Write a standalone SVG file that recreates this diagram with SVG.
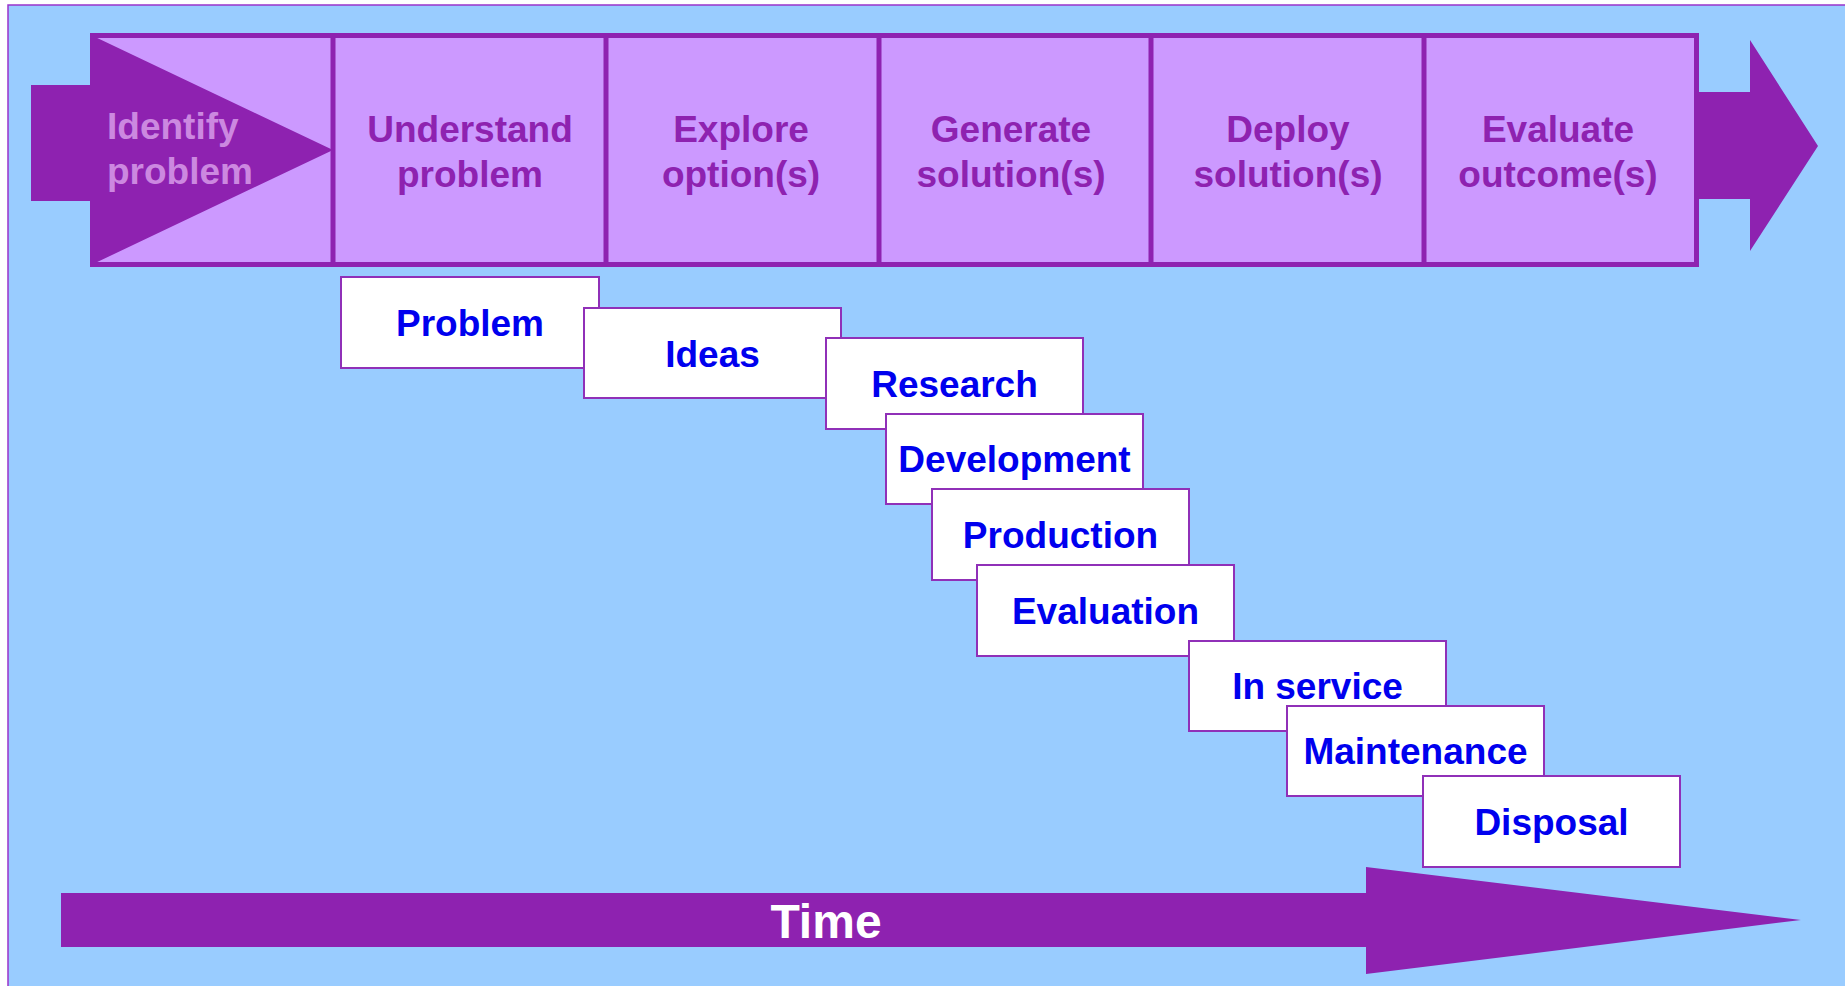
<svg xmlns="http://www.w3.org/2000/svg" width="1845" height="986" viewBox="0 0 1845 986">
<style>
.hdr{font-family:"Liberation Sans",Arial,sans-serif;font-weight:bold;font-size:37px;fill:#8E22B0;text-anchor:middle}
.idf{font-family:"Liberation Sans",Arial,sans-serif;font-weight:bold;font-size:37px;fill:#CC88E0}
.box rect{fill:#FFFFFF;stroke:#9030B8;stroke-width:2}
.box text{font-family:"Liberation Sans",Arial,sans-serif;font-weight:bold;font-size:37px;fill:#0000EE;text-anchor:middle}
.arr{fill:#8E22B0}
</style>
<rect x="0" y="0" width="1845" height="986" fill="#FFFFFF"/>
<rect id="background" x="8" y="5" width="1850" height="1000" fill="#99CCFF" stroke="#9933CC" stroke-width="1.5"/>
<g id="phase-bar">
<rect x="92.5" y="35.5" width="1604" height="229" fill="#CC99FF"/>
<polygon class="arr" points="31,85 92,85 92,35.5 333,150 92,264.5 92,201 31,201"/>
<rect x="92.5" y="35.5" width="1604" height="229" fill="none" stroke="#8E22B0" stroke-width="5"/>
<g stroke="#8E22B0" stroke-width="5">
<line x1="333" y1="35" x2="333" y2="265"/>
<line x1="606" y1="35" x2="606" y2="265"/>
<line x1="879" y1="35" x2="879" y2="265"/>
<line x1="1151" y1="35" x2="1151" y2="265"/>
<line x1="1424" y1="35" x2="1424" y2="265"/>
</g>
<polygon class="arr" points="1696,92 1750,92 1750,40 1818,146 1750,251 1750,199 1696,199"/>
</g>
<g id="identify"><text class="idf" x="107" y="139">Identify</text><text class="idf" x="107" y="184">problem</text></g>
<g id="understand"><text class="hdr" x="470" y="142">Understand</text><text class="hdr" x="470" y="187">problem</text></g>
<g id="explore"><text class="hdr" x="741" y="142">Explore</text><text class="hdr" x="741" y="187">option(s)</text></g>
<g id="generate"><text class="hdr" x="1011" y="142">Generate</text><text class="hdr" x="1011" y="187">solution(s)</text></g>
<g id="deploy"><text class="hdr" x="1288" y="142">Deploy</text><text class="hdr" x="1288" y="187">solution(s)</text></g>
<g id="evaluate"><text class="hdr" x="1558" y="142">Evaluate</text><text class="hdr" x="1558" y="187">outcome(s)</text></g>
<g id="problem" class="box"><rect x="341" y="277" width="258" height="91"/><text x="470" y="336">Problem</text></g>
<g id="ideas" class="box"><rect x="584" y="308" width="257" height="90"/><text x="712.5" y="367">Ideas</text></g>
<g id="research" class="box"><rect x="826" y="338" width="257" height="91"/><text x="954.5" y="397">Research</text></g>
<g id="development" class="box"><rect x="886" y="414" width="257" height="90"/><text x="1014.5" y="472">Development</text></g>
<g id="production" class="box"><rect x="932" y="489" width="257" height="91"/><text x="1060.5" y="548">Production</text></g>
<g id="evaluation" class="box"><rect x="977" y="565" width="257" height="91"/><text x="1105.5" y="624">Evaluation</text></g>
<g id="in-service" class="box"><rect x="1189" y="641" width="257" height="90"/><text x="1317.5" y="699">In service</text></g>
<g id="maintenance" class="box"><rect x="1287" y="706" width="257" height="90"/><text x="1415.5" y="764">Maintenance</text></g>
<g id="disposal" class="box"><rect x="1423" y="776" width="257" height="91"/><text x="1551.5" y="835">Disposal</text></g>
<g id="connectors">
<polygon class="arr" points="61,893 1366,893 1366,867 1801,920 1366,974 1366,947 61,947"/>
<text x="826" y="938" font-family="Liberation Sans, Arial, sans-serif" font-weight="bold" font-size="48" fill="#FFFFFF" text-anchor="middle">Time</text>
</g>
</svg>
